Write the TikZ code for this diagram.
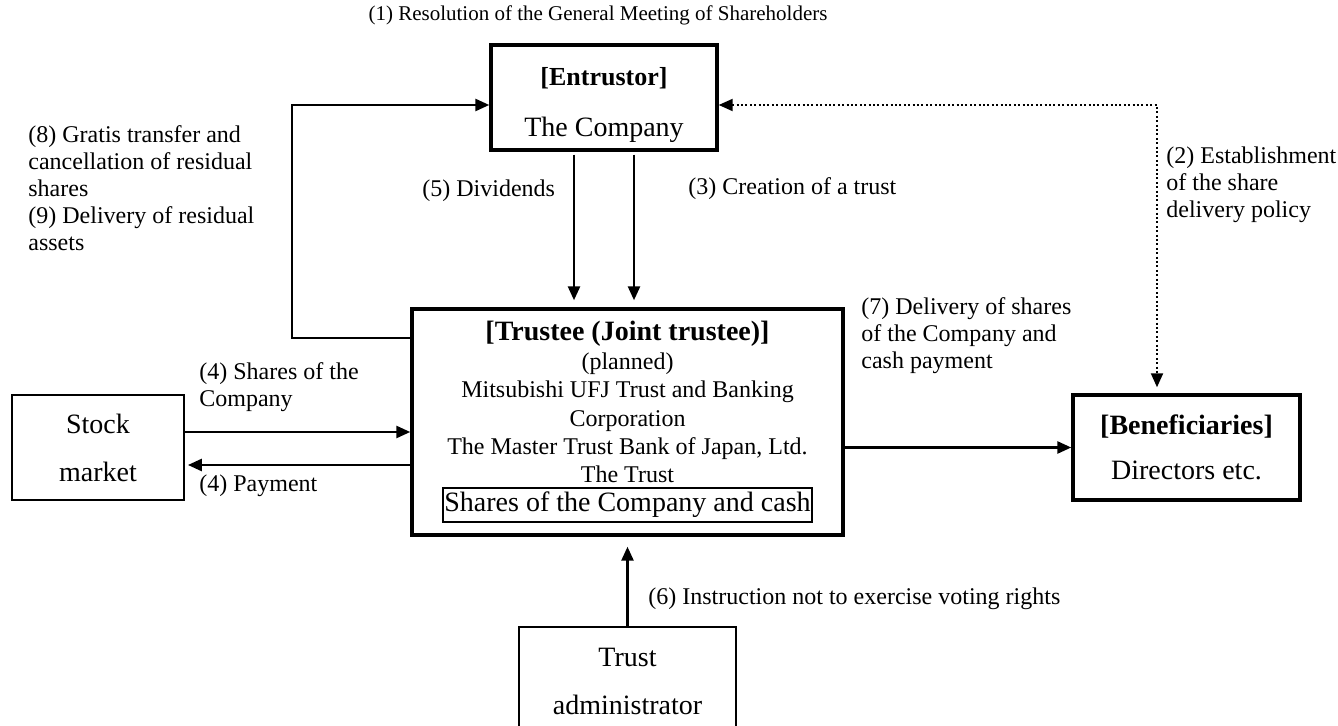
\documentclass[tikz,border=0pt]{standalone}
\usepackage{fontspec}
\setmainfont{Liberation Serif}
\usetikzlibrary{arrows.meta}

\begin{document}
\begin{tikzpicture}
  [x=0.5pt, y=-0.5pt,
  lbl/.style={font=\fontsize{12}{13.5}\selectfont, align=left, anchor=north west, inner sep=0pt},
  box/.style={draw=black, line width=0.9pt, align=center, font=\fontsize{14}{24}\selectfont, inner sep=0pt},
  heavybox/.style={box, line width=1.7pt},
  arrow/.style={line width=1.3pt, -{Triangle[length=7pt,width=6pt]}},
  dotline/.style={line width=1pt, dash pattern=on 1pt off 1.2pt,
    {Triangle[length=7pt,width=6pt]}-{Triangle[length=7pt,width=6pt]}}]
  \useasboundingbox (0,0) rectangle (1338,726);

  % boxes
  \node [heavybox, minimum width=113pt, minimum height=52.5pt, font=\fontsize{13}{25.5}\selectfont] (entrustor) at (604,97.5)
    {\bfseries\rule{0pt}{17pt}[Entrustor]\\ \mdseries\fontsize{14}{25.5}\selectfont The Company};
  \node [heavybox, minimum width=215.5pt, minimum height=113pt] (trustee) at (627.5,422) {};
  \node [align=center, anchor=north, inner sep=0pt, font=\fontsize{12}{14.2}\selectfont] (trusteetext) at (627.5,321)
    {\fontsize{14}{15}\selectfont\bfseries [Trustee (Joint trustee)]\\
     \mdseries (planned)\\
     \fontsize{12}{14.2}\selectfont Mitsubishi UFJ Trust and Banking\\
     Corporation\\
     The Master Trust Bank of Japan, Ltd.\\
     The Trust};
  \node [box, minimum width=184.5pt, minimum height=17pt] (assets) at (627.5,505) {Shares of the Company and cash};
  \node [box, minimum width=86pt, minimum height=52.5pt] (stock) at (98,447.5) {Stock\\market};
  \node [heavybox, minimum width=113.5pt, minimum height=52.5pt, font=\fontsize{14}{22.5}\selectfont] (benef) at (1186.5,447.5)
    {\bfseries [Beneficiaries]\\ \mdseries Directors etc.};
  \node [box, minimum width=108.5pt, minimum height=54pt] (admin) at (627.5,681) {Trust\\administrator};

  % labels
  \node [lbl, anchor=center, font=\fontsize{10.5}{12}\selectfont] (resolution) at (598,15) {(1) Resolution of the General Meeting of Shareholders};
  \node [lbl] (returnlbl) at (28,125) {(8) Gratis transfer and\\cancellation of residual\\shares\\(9) Delivery of residual\\assets};
  \node [lbl] (dividendlbl) at (422,179) {(5) Dividends};
  \node [lbl] (creationlbl) at (688,177) {(3) Creation of a trust};
  \node [lbl] (policylbl) at (1166,146) {(2) Establishment\\of the share\\delivery policy};
  \node [lbl] (deliverylbl) at (861,297) {(7) Delivery of shares\\of the Company and\\cash payment};
  \node [lbl] (shareslbl) at (199,362) {(4) Shares of the\\Company};
  \node [lbl] (paymentlbl) at (199,474) {(4) Payment};
  \node [lbl] (votinglbl) at (648,587) {(6) Instruction not to exercise voting rights};

  % connectors
  \coordinate (loop) at (292,105);
  \coordinate (loopend) at (292,338);
  \coordinate (fork) at (1157,105);
  \draw [arrow] (loopend -| trustee.west) -- (loopend) -- (loop) -- (loop -| entrustor.west);
  \draw [arrow, shorten <=1.5pt, shorten >=3.5pt] ([xshift=-15pt]entrustor.south) -- ([xshift=-15pt]entrustor.south |- trustee.north);
  \draw [arrow, shorten <=1.5pt, shorten >=3.5pt] ([xshift=15pt]entrustor.south) -- ([xshift=15pt]entrustor.south |- trustee.north);
  \draw [dotline, shorten >=3pt] (fork -| entrustor.east) -- (fork) -- (fork |- benef.north);
  \draw [arrow] ([yshift=7.75pt]stock.east) -- ([yshift=7.75pt]stock.east -| trustee.west);
  \draw [arrow, shorten >=1.5pt] ([yshift=-8.75pt]stock.east -| trustee.west) -- ([yshift=-8.75pt]stock.east);
  \draw [arrow] (trustee.east |- benef.west) -- (benef.west);
  \draw [arrow, shorten >=5pt] (admin.north) -- (trustee.south);
\end{tikzpicture}
\end{document}
